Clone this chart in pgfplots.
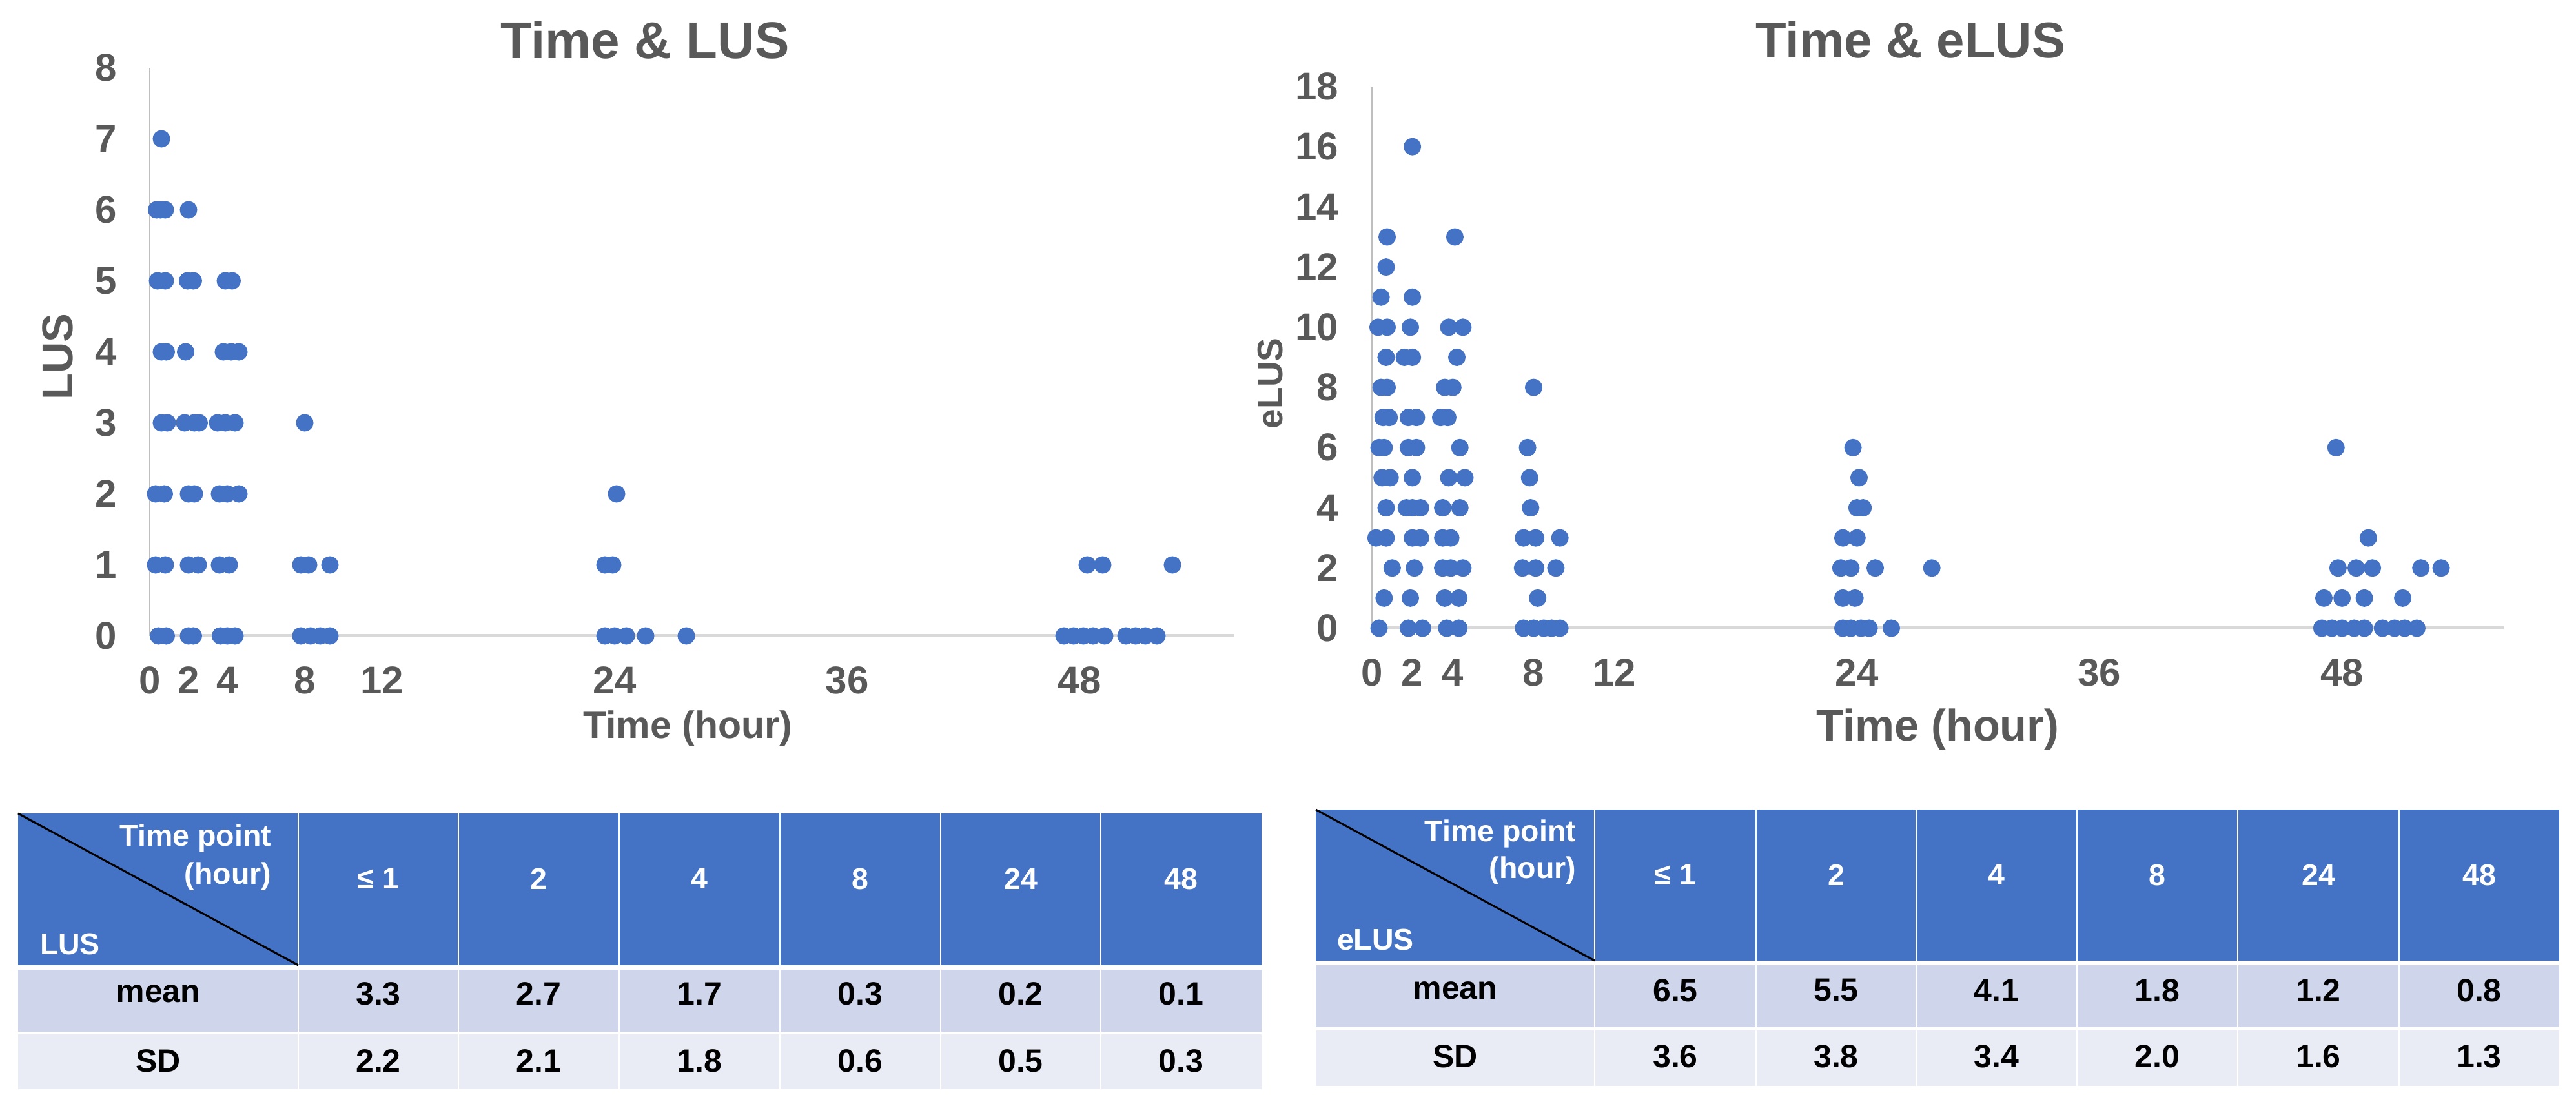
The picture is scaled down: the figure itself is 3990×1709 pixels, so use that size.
\documentclass[border=0pt]{standalone}
\usepackage{fontspec}
\setmainfont{Liberation Sans}
\usepackage{pgfplots}
\usepackage{pgfplotstable}
\pgfplotsset{compat=1.18}

\definecolor{dot}{HTML}{4472C4}
\definecolor{txt}{HTML}{595959}
\definecolor{hdr}{HTML}{4472C4}
\definecolor{rowa}{HTML}{CFD5EA}
\definecolor{rowb}{HTML}{E9EBF5}
\definecolor{xline}{HTML}{D9D9D9}
\definecolor{yline}{HTML}{BFBFBF}

\newcommand\tickfont{\fontsize{12}{12}\selectfont\bfseries}
\newcommand\tabfont{\fontsize{9.3}{9.3}\selectfont\bfseries}
\newcommand\valfont{\fontsize{10}{10}\selectfont\bfseries}

% LUS scores against time (hour)
\pgfplotstableread{
x y
0.6 7
0.35 6
0.55 6
0.8 6
2.0 6
0.4 5
0.8 5
1.95 5
2.25 5
3.9 5
4.25 5
0.6 4
0.85 4
1.85 4
3.8 4
4.2 4
4.6 4
0.6 3
0.9 3
1.8 3
2.3 3
2.55 3
3.5 3
3.9 3
4.4 3
8.0 3
0.3 2
0.75 2
2.0 2
2.3 2
3.6 2
4.0 2
4.6 2
24.1 2
0.3 1
0.8 1
2.0 1
2.5 1
3.6 1
4.1 1
7.8 1
8.2 1
9.3 1
23.5 1
23.9 1
48.4 1
49.2 1
52.8 1
0.45 0
0.85 0
2.0 0
2.25 0
3.65 0
4.0 0
4.4 0
7.8 0
8.3 0
8.8 0
9.3 0
23.5 0
24.0 0
24.6 0
25.6 0
27.7 0
47.2 0
47.7 0
48.2 0
48.7 0
49.3 0
50.4 0
50.9 0
51.4 0
52.0 0
}\lusdata

% eLUS scores against time (hour)
\pgfplotstableread{
x y
2.0 16
0.75 13
4.1 13
0.7 12
0.45 11
2.0 11
0.3 10
0.75 10
1.9 10
3.8 10
4.5 10
0.7 9
1.6 9
2.0 9
4.2 9
0.45 8
0.75 8
3.6 8
4.0 8
8.0 8
0.55 7
0.85 7
1.8 7
2.2 7
3.4 7
3.75 7
0.35 6
0.6 6
1.8 6
2.2 6
4.35 6
7.7 6
23.8 6
47.7 6
0.5 5
0.9 5
2.0 5
3.8 5
4.6 5
7.8 5
24.1 5
0.7 4
1.7 4
2.0 4
2.4 4
3.5 4
4.35 4
7.85 4
24.0 4
24.3 4
0.2 3
0.7 3
2.0 3
2.4 3
3.5 3
3.9 3
7.5 3
8.1 3
9.3 3
23.3 3
24.0 3
49.3 3
1.0 2
2.1 2
3.5 2
3.9 2
4.5 2
7.45 2
8.1 2
9.1 2
23.2 2
23.7 2
24.9 2
27.7 2
47.8 2
48.7 2
49.5 2
51.9 2
52.9 2
0.6 1
1.9 1
3.6 1
4.3 1
8.2 1
23.3 1
23.9 1
47.1 1
48.0 1
49.1 1
51.0 1
0.35 0
1.8 0
2.5 0
3.7 0
4.3 0
7.5 0
8.0 0
8.5 0
8.9 0
9.3 0
23.3 0
23.7 0
24.2 0
24.6 0
25.7 0
47.0 0
47.5 0
48.0 0
48.6 0
49.1 0
50.0 0
50.6 0
51.1 0
51.7 0
}\eludata

\pgfplotsset{
  scat/.style={
    scale only axis, clip=false,
    xmin=0, xmax=56, ymin=0,
    axis x line*=bottom, axis y line*=left,
    x axis line style={draw=xline, line width=1pt},
    y axis line style={draw=yline, line width=0.4pt},
    major tick length=0pt,
    xtick={0,2,4,8,12,24,36,48},
    /pgf/number format/assume math mode=true,
    tick label style={font=\tickfont, text=txt, inner sep=0pt},
    xticklabel style={anchor=north, yshift=-9.4pt},
    yticklabel style={anchor=east, xshift=-10pt},
  },
  dots/.style={only marks, mark=*, mark size=2.5pt,
    mark options={draw=dot, fill=dot}},
}

\begin{document}
\begin{tikzpicture}[x=0.2pt, y=0.2pt]
\useasboundingbox (0,0) rectangle (3990,1709);

% ---------- left scatter ----------
\begin{axis}[scat,
  at={(46.4pt,144.8pt)}, anchor=south west,
  width=336pt, height=176pt,
  ymax=8, ytick={0,1,...,8},
  title={Time \& LUS},
  every axis title/.style={at={(axis description cs:0.4565,1.049)}, anchor=center,
    font=\fontsize{16}{16}\selectfont\bfseries, text=txt},
  xlabel={Time (hour)},
  every axis x label/.style={at={(axis description cs:0.496,-0.1625)}, anchor=center,
    font=\fontsize{11.8}{11.8}\selectfont\bfseries, text=txt},
  ylabel={LUS},
  every axis y label/.style={at={(axis description cs:-0.085,0.491)}, anchor=center,
    rotate=90, font=\fontsize{13.4}{13.4}\selectfont\bfseries, text=txt},
]
\addplot[dots] table[x=x, y=y] {\lusdata};
\end{axis}

% ---------- right scatter ----------
\begin{axis}[scat,
  at={(425pt,147.2pt)}, anchor=south west,
  width=350.6pt, height=167.8pt,
  ymax=18, ytick={0,2,...,18},
  yticklabel style={xshift=-0.2pt},
  title={Time \& eLUS},
  every axis title/.style={at={(axis description cs:0.476,1.086)}, anchor=center,
    font=\fontsize{15.6}{15.6}\selectfont\bfseries, text=txt},
  xlabel={Time (hour)},
  every axis x label/.style={at={(axis description cs:0.5,-0.187)}, anchor=center,
    font=\fontsize{13.7}{13.7}\selectfont\bfseries, text=txt},
  ylabel={eLUS},
  every axis y label/.style={at={(axis description cs:-0.090,0.452)}, anchor=center,
    rotate=90, font=\fontsize{11}{11}\selectfont\bfseries, text=txt},
]
\addplot[dots] table[x=x, y=y] {\eludata};
\end{axis}

% ---------- left table ----------
\fill[hdr]  (28,214) rectangle (1954,449);
\fill[rowa] (28,111) rectangle (1954,207);
\fill[rowb] (28,22)  rectangle (1954,107);
\foreach \xx in {462,710,959,1208,1457,1705}
  \draw[white, line width=0.4pt] (\xx,22) -- (\xx,449);
\draw[black, line width=0.6pt] (28,449) -- (462,214);
\node[anchor=east, inner sep=0pt, text=white, font=\tabfont] at (421,411) {Time point};
\node[anchor=east, inner sep=0pt, text=white, font=\tabfont] at (421,352) {(hour)};
\node[anchor=west, inner sep=0pt, text=white, font=\tabfont] at (61,247) {LUS};
\node[inner sep=0pt, font=\valfont] at (245,170) {mean};
\node[inner sep=0pt, font=\valfont] at (245,66) {SD};
\foreach \cx/\hd/\mn/\sd in {586/{≤ 1}/3.3/2.2, 834.5/2/2.7/2.1, 1083.5/4/1.7/1.8,
    1332.5/8/0.3/0.6, 1581/24/0.2/0.5, 1829.5/48/0.1/0.3}{
  \node[inner sep=0pt, text=white, font=\tabfont] at (\cx,348) {\hd};
  \node[inner sep=0pt, font=\valfont] at (\cx,170) {\mn};
  \node[inner sep=0pt, font=\valfont] at (\cx,66) {\sd};
}

% ---------- right table ----------
\fill[hdr]  (2038,221) rectangle (3964,455);
\fill[rowa] (2038,118) rectangle (3964,214);
\fill[rowb] (2038,27)  rectangle (3964,113);
\foreach \xx in {2470,2720,2968,3217,3466,3716}
  \draw[white, line width=0.4pt] (\xx,27) -- (\xx,455);
\draw[black, line width=0.6pt] (2038,455) -- (2470,221);
\node[anchor=east, inner sep=0pt, text=white, font=\tabfont] at (2442,418) {Time point};
\node[anchor=east, inner sep=0pt, text=white, font=\tabfont] at (2442,361) {(hour)};
\node[anchor=west, inner sep=0pt, text=white, font=\tabfont] at (2070,254) {eLUS};
\node[inner sep=0pt, font=\valfont] at (2254,175) {mean};
\node[inner sep=0pt, font=\valfont] at (2254,73) {SD};
\foreach \cx/\hd/\mn/\sd in {2595/{≤ 1}/6.5/3.6, 2844/2/5.5/3.8, 3092.5/4/4.1/3.4,
    3341.5/8/1.8/2.0, 3591/24/1.2/1.6, 3840/48/0.8/1.3}{
  \node[inner sep=0pt, text=white, font=\tabfont] at (\cx,354) {\hd};
  \node[inner sep=0pt, font=\valfont] at (\cx,175) {\mn};
  \node[inner sep=0pt, font=\valfont] at (\cx,73) {\sd};
}
\end{tikzpicture}
\end{document}
